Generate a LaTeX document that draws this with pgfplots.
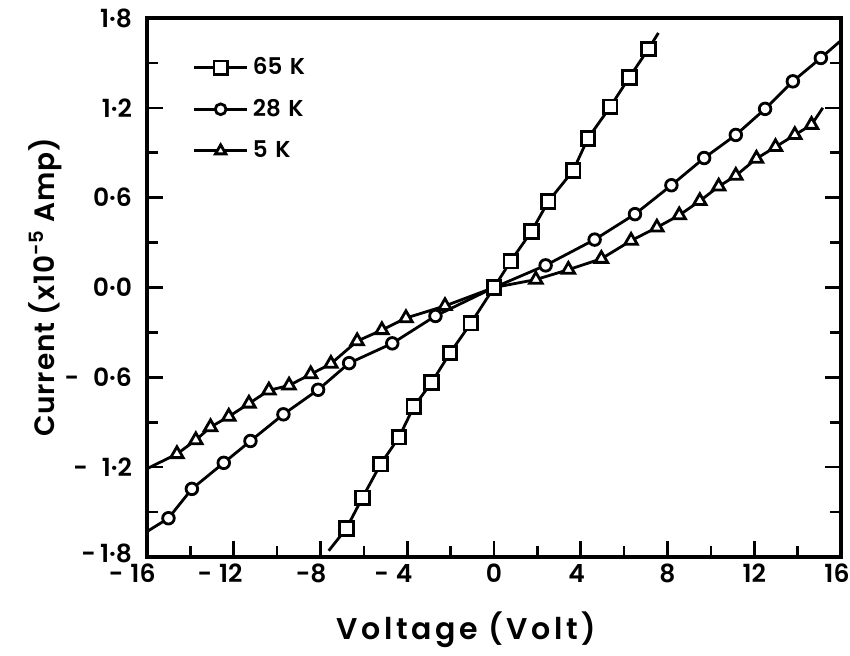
\documentclass[border=0pt]{standalone}
\usepackage{fontspec}
\setmainfont{Poppins SemiBold}
\usepackage{pgfplots}
\pgfplotsset{compat=1.18}
\begin{document}
\begin{tikzpicture}[x=1pt,y=1pt]
\useasboundingbox (-73.5,-49) rectangle (351.5,278.5);
\begin{axis}[
  at={(0,0)}, anchor=south west,
  scale only axis, width=347pt, height=269.5pt,
  xmin=-16, xmax=16, ymin=-1.8, ymax=1.8,
  axis line style={line width=1.6pt},
  xtick={-16,-12,-8,-4,0,4,8,12,16},
  xticklabels={\llap{-\;}16\hspace*{4pt},\llap{-\;}12\hspace*{3pt},\llap{-}8\hspace*{2pt},\llap{-\;}4\hspace*{3pt},0,4\hspace*{4pt},8,12,16\hspace*{4pt}},
  minor xtick={-14,-10,-6,-2,2,6,10,14},
  ytick={-1.8,-1.2,-0.6,0,0.6,1.2,1.8},
  yticklabels={\raisebox{4pt}{-\,1·8},-\;\;1·2,-\;\;0·6,0·0,0·6,1·2,1·8},
  minor ytick={-1.5,-0.9,-0.3,0.3,0.9,1.5},
  xtick pos=bottom, ytick pos=both, yticklabel pos=left,
  tick align=inside,
  major tick length=8pt, minor tick length=5.5pt,
  every tick/.style={line width=1.3pt, black},
  tick label style={font=\fontsize{12.5}{14}\selectfont},
  yticklabel style={xshift=-4pt},
  every axis x label/.style={at={(axis description cs:0.46,-0.135)}, anchor=center, font=\fontsize{15}{17}\selectfont\addfontfeature{LetterSpace=12}},
  every axis y label/.style={at={(axis description cs:-0.147,0.5)}, anchor=center, rotate=90, font=\fontsize{14}{16}\selectfont\addfontfeature{LetterSpace=3}},
  xlabel={Voltage (Volt)},
  ylabel={Current (x10\textsuperscript{-5} Amp)},
  legend style={draw=none, fill=none, at={(0.065,0.935)}, anchor=north west,
    font=\fontsize{11.5}{13}\selectfont, row sep=6.8pt, inner sep=0pt},
  legend cell align=left,
  legend image code/.code={\draw[mark repeat=2,mark phase=2] plot coordinates {(0cm,0cm) (0.47cm,0cm) (0.94cm,0cm)};},
]
% lines
\addplot[forget plot, line width=1.4pt, no marks] coordinates {(-7.62,-1.758) (-6.81,-1.61) (-6.07,-1.405) (-5.23,-1.18) (-4.38,-1.0) (-3.70,-0.796) (-2.88,-0.635) (-2.03,-0.438) (-1.07,-0.239) (0,0) (0.77,0.176) (1.73,0.375) (2.50,0.574) (3.65,0.781) (4.33,0.996) (5.36,1.207) (6.24,1.404) (7.12,1.593) (7.58,1.70)};
\addplot[forget plot, line width=1.4pt, no marks] coordinates {(-16,-1.63) (-15.01,-1.541) (-13.93,-1.345) (-12.46,-1.171) (-11.23,-1.025) (-9.71,-0.847) (-8.11,-0.683) (-6.68,-0.505) (-4.69,-0.373) (-2.70,-0.19) (0,0) (2.38,0.148) (4.64,0.32) (6.50,0.49) (8.18,0.683) (9.69,0.865) (11.15,1.019) (12.50,1.193) (13.78,1.377) (15.07,1.533) (16,1.65)};
\addplot[forget plot, line width=1.4pt, no marks] coordinates {(-16,-1.21) (-14.62,-1.112) (-13.75,-1.019) (-13.07,-0.932) (-12.23,-0.862) (-11.30,-0.775) (-10.38,-0.687) (-9.45,-0.654) (-8.45,-0.579) (-7.52,-0.509) (-6.31,-0.358) (-5.17,-0.284) (-4.06,-0.204) (-2.26,-0.123) (0,0) (1.93,0.053) (3.43,0.119) (4.95,0.192) (6.32,0.313) (7.51,0.401) (8.54,0.483) (9.49,0.578) (10.36,0.675) (11.15,0.747) (12.10,0.861) (12.98,0.939) (13.87,1.019) (14.64,1.087) (15.16,1.2)};
% marks
\addplot[forget plot, only marks, mark=square*, mark size=3.4pt, mark options={fill=white, draw=black, line width=1.4pt}] coordinates {(-6.81,-1.61) (-6.07,-1.405) (-5.23,-1.18) (-4.38,-1.0) (-3.70,-0.796) (-2.88,-0.635) (-2.03,-0.438) (-1.07,-0.239) (0,0) (0.77,0.176) (1.73,0.375) (2.50,0.574) (3.65,0.781) (4.33,0.996) (5.36,1.207) (6.24,1.404) (7.12,1.593)};
\addplot[forget plot, only marks, mark=*, mark size=2.9pt, mark options={fill=white, draw=black, line width=1.4pt}] coordinates {(-15.01,-1.541) (-13.93,-1.345) (-12.46,-1.171) (-11.23,-1.025) (-9.71,-0.847) (-8.11,-0.683) (-6.68,-0.505) (-4.69,-0.373) (-2.70,-0.19) (2.38,0.148) (4.64,0.32) (6.50,0.49) (8.18,0.683) (9.69,0.865) (11.15,1.019) (12.50,1.193) (13.78,1.377) (15.07,1.533)};
\addplot[forget plot, only marks, mark=triangle*, mark size=3.6pt, mark options={fill=white, draw=black, line width=1.4pt}] coordinates {(-14.62,-1.112) (-13.75,-1.019) (-13.07,-0.932) (-12.23,-0.862) (-11.30,-0.775) (-10.38,-0.687) (-9.45,-0.654) (-8.45,-0.579) (-7.52,-0.509) (-6.31,-0.358) (-5.17,-0.284) (-4.06,-0.204) (-2.26,-0.123) (1.93,0.053) (3.43,0.119) (4.95,0.192) (6.32,0.313) (7.51,0.401) (8.54,0.483) (9.49,0.578) (10.36,0.675) (11.15,0.747) (12.10,0.861) (12.98,0.939) (13.87,1.019) (14.64,1.087)};
% legend
\addlegendimage{line width=1.4pt, mark=square*, mark size=3.3pt, mark options={fill=white, draw=black, line width=1.4pt}}
\addlegendentry{65\,\,K}
\addlegendimage{line width=1.4pt, mark=*, mark size=2.7pt, mark options={fill=white, draw=black, line width=1.4pt}}
\addlegendentry{28\,\,K}
\addlegendimage{line width=1.4pt, mark=triangle*, mark size=3.0pt, mark options={fill=white, draw=black, line width=1.4pt}}
\addlegendentry{5\,\,K}
\end{axis}
\end{tikzpicture}
\end{document}
